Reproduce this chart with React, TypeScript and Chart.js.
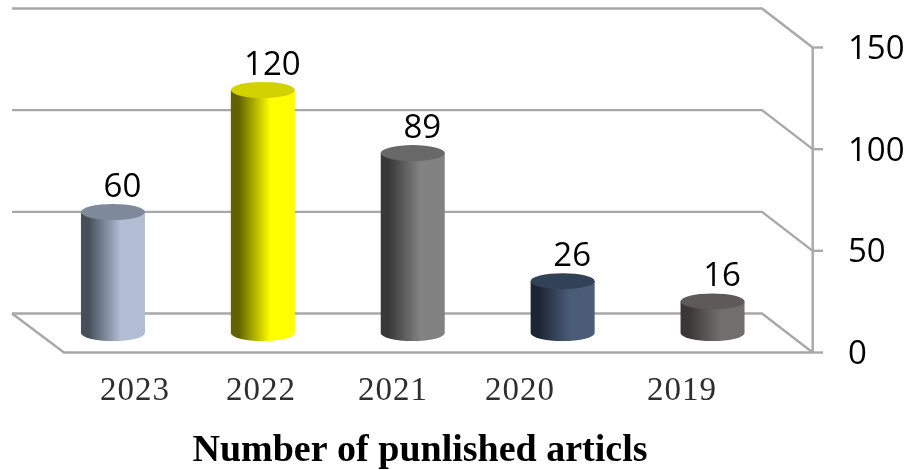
import React, { useEffect, useRef } from "react";
import { Chart, registerables } from "chart.js";

Chart.register(...registerables);

const categories = ["2023", "2022", "2021", "2020", "2019"];
const publishedArticles = [60, 120, 89, 26, 16];
const sideDark = ["#474f5b", "#626200", "#383838", "#1c2532", "#383636"];
const sideLight = ["#b0bdd2", "#ffff00", "#828282", "#4b5c78", "#726e6e"];
const topColors = ["#7e8a9a", "#d2d200", "#686868", "#324256", "#5e5a5a"];
const axisLabelCenters = [135, 261, 393, 520, 682];
const axisTitle = "Number of punlished articls";

const LINE = "#a8a8a8";
const DEPTH_Y = 39;
const BACK_LEFT = 12;
const BACK_RIGHT = 762;
const FRONT_LEFT = 64;
const AXIS_X = 812.7;
const TICK_END = 823;
const TOP_LIFT = 18.5;
const BASE_LIFT = 19.5;
const RY = 8;

const threeD = {
  id: "threeD",
  beforeDraw(chart: any) {
    const items = chart.scales.y.getLabelItems();
    items.forEach((it: any) => {
      if (!it.__shifted) {
        it.textOffset += 2;
        it.__shifted = true;
      }
    });
  },
  beforeDatasetsDraw(chart: any) {
    const { ctx, scales } = chart;
    const y = scales.y;
    const zero = y.getPixelForValue(0);
    const top = y.getPixelForValue(y.max);
    ctx.save();
    ctx.strokeStyle = LINE;
    ctx.lineWidth = 2.4;
    ctx.lineJoin = "miter";
    for (const t of y.ticks) {
      const p = y.getPixelForValue(t.value);
      ctx.beginPath();
      ctx.moveTo(BACK_LEFT, p - DEPTH_Y);
      ctx.lineTo(BACK_RIGHT, p - DEPTH_Y);
      ctx.lineTo(AXIS_X, p);
      ctx.stroke();
      ctx.beginPath();
      ctx.moveTo(AXIS_X, p);
      ctx.lineTo(TICK_END, p);
      ctx.stroke();
    }
    ctx.beginPath();
    ctx.moveTo(BACK_LEFT, zero - DEPTH_Y);
    ctx.lineTo(FRONT_LEFT, zero);
    ctx.lineTo(AXIS_X, zero);
    ctx.moveTo(AXIS_X, top);
    ctx.lineTo(AXIS_X, zero);
    ctx.stroke();
    ctx.restore();
  },
  beforeDatasetDraw() {
    return false;
  },
  afterDatasetsDraw(chart: any) {
    const { ctx } = chart;
    const meta = chart.getDatasetMeta(0);
    meta.data.forEach((bar: any, i: number) => {
      const rx = bar.width / 2;
      const left = bar.x - rx;
      const right = bar.x + rx;
      const topY = bar.y - TOP_LIFT;
      const baseY = bar.base - BASE_LIFT;
      const g = ctx.createLinearGradient(left, 0, right, 0);
      g.addColorStop(0, sideDark[i]);
      g.addColorStop(0.12, sideDark[i]);
      g.addColorStop(0.62, sideLight[i]);
      g.addColorStop(1, sideLight[i]);
      ctx.save();
      ctx.fillStyle = g;
      ctx.beginPath();
      ctx.moveTo(left, topY);
      ctx.lineTo(left, baseY);
      ctx.ellipse(bar.x, baseY, rx, RY, 0, Math.PI, 0, true);
      ctx.lineTo(right, topY);
      ctx.closePath();
      ctx.fill();
      ctx.fillStyle = topColors[i];
      ctx.beginPath();
      ctx.ellipse(bar.x, topY, rx, RY, 0, 0, Math.PI * 2);
      ctx.fill();

      ctx.fillStyle = "#000";
      ctx.font = '33px "Open Sans"';
      ctx.textAlign = "center";
      ctx.textBaseline = "alphabetic";
      ctx.fillText(String(publishedArticles[i]), bar.x + 9.5, topY - 15);
      ctx.restore();
    });

    ctx.save();
    ctx.textAlign = "center";
    ctx.textBaseline = "alphabetic";
    ctx.fillStyle = "#2e2e2e";
    ctx.font = '33px "Liberation Serif"';
    (ctx as any).letterSpacing = "1px";
    categories.forEach((c, i) => ctx.fillText(c, axisLabelCenters[i], 400));
    (ctx as any).letterSpacing = "0px";
    ctx.fillStyle = "#000";
    ctx.font = 'bold 38px "Liberation Serif"';
    ctx.fillText(axisTitle, 420, 461);
    ctx.restore();
  },
};

export default function App() {
  const ref = useRef<HTMLCanvasElement>(null);
  useEffect(() => {
    const chart = new Chart(ref.current as HTMLCanvasElement, {
      type: "bar",
      data: {
        labels: categories,
        datasets: [
          {
            label: axisTitle,
            data: publishedArticles,
            backgroundColor: sideLight,
            barThickness: 64,
          },
        ],
      },
      options: {
        responsive: false,
        animation: false,
        layout: { padding: { left: 38, top: 47.5, right: 0, bottom: 0 } },
        plugins: { legend: { display: false }, tooltip: { enabled: false } },
        scales: {
          x: {
            grid: { display: false, drawTicks: false },
            border: { display: false },
            ticks: { display: false },
            afterFit: (s: any) => {
              s.height = 117.5;
              s.paddingLeft = 0;
              s.paddingRight = 0;
            },
          },
          y: {
            position: "right",
            min: 0,
            max: 150,
            grid: { display: false, drawTicks: false },
            border: { display: false },
            ticks: {
              stepSize: 50,
              padding: 60.5,
              color: "#000",
              font: { family: "Open Sans", size: 33 },
            },
            afterFit: (s: any) => {
              s.width = 119.5;
              s.paddingTop = 0;
              s.paddingBottom = 0;
            },
          },
        },
      },
      plugins: [threeD],
    } as any);
    return () => chart.destroy();
  }, []);
  return (
    <div style={{ position: "absolute", left: 0, top: 0, width: 907, height: 470, background: "#fff" }}>
      <canvas ref={ref} width={907} height={470} style={{ display: "block" }} />
    </div>
  );
}
